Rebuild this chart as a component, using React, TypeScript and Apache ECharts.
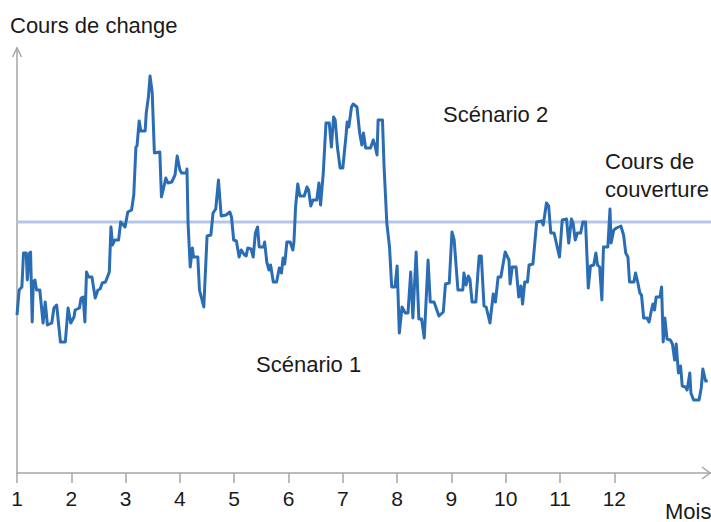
import React, { useEffect, useRef } from "react";
import * as echarts from "echarts";

// Time in months (1 = start of month 1) and exchange-rate level (arbitrary units)
const months: number[] = [
  1.0, 1.04, 1.09, 1.12, 1.17, 1.19, 1.23, 1.25, 1.28, 1.3, 1.33, 1.36, 1.42, 1.48, 1.52, 1.56, 1.64, 1.68, 1.73, 1.8,
  1.89, 1.94, 1.99, 2.05, 2.07, 2.15, 2.18, 2.22, 2.25, 2.28, 2.32, 2.38, 2.44, 2.49, 2.53, 2.57, 2.63, 2.7, 2.73, 2.76,
  2.8, 2.87, 2.91, 2.96, 2.99, 3.04, 3.11, 3.15, 3.19, 3.21, 3.25, 3.28, 3.36, 3.38, 3.42, 3.45, 3.49, 3.53, 3.63, 3.66,
  3.7, 3.74, 3.78, 3.85, 3.91, 3.95, 4.0, 4.03, 4.12, 4.13, 4.15, 4.19, 4.23, 4.25, 4.33, 4.36, 4.44, 4.5, 4.57, 4.61,
  4.66, 4.71, 4.76, 4.85, 4.92, 4.95, 4.99, 5.04, 5.09, 5.13, 5.19, 5.22, 5.25, 5.31, 5.35, 5.39, 5.43, 5.46, 5.54, 5.56,
  5.6, 5.64, 5.67, 5.72, 5.78, 5.83, 5.87, 5.9, 5.93, 5.97, 6.03, 6.08, 6.1, 6.13, 6.17, 6.21, 6.29, 6.34, 6.37, 6.41,
  6.45, 6.52, 6.56, 6.59, 6.64, 6.69, 6.75, 6.79, 6.83, 6.86, 6.9, 6.95, 7.0, 7.06, 7.08, 7.11, 7.16, 7.19, 7.26, 7.31,
  7.35, 7.38, 7.42, 7.51, 7.56, 7.59, 7.63, 7.65, 7.73, 7.76, 7.81, 7.86, 7.9, 7.96, 8.0, 8.04, 8.09, 8.15, 8.2, 8.25,
  8.29, 8.35, 8.4, 8.45, 8.5, 8.57, 8.61, 8.68, 8.77, 8.85, 8.89, 8.96, 9.01, 9.05, 9.12, 9.21, 9.23, 9.27, 9.31, 9.34,
  9.38, 9.45, 9.51, 9.55, 9.6, 9.64, 9.71, 9.77, 9.81, 9.86, 9.91, 9.99, 10.06, 10.08, 10.12, 10.19, 10.24, 10.28, 10.31, 10.35,
  10.4, 10.43, 10.5, 10.57, 10.66, 10.69, 10.75, 10.79, 10.83, 10.89, 10.99, 11.04, 11.12, 11.16, 11.21, 11.24, 11.28, 11.32, 11.38, 11.42,
  11.47, 11.52, 11.56, 11.62, 11.66, 11.69, 11.73, 11.77, 11.8, 11.88, 11.92, 11.94, 11.99, 12.04, 12.12, 12.17, 12.21, 12.25, 12.28, 12.36,
  12.39, 12.43, 12.47, 12.5, 12.54, 12.6, 12.64, 12.68, 12.71, 12.74, 12.77, 12.84, 12.87, 12.9, 12.93, 12.97, 13.03, 13.07, 13.11, 13.14,
  13.18, 13.22, 13.25, 13.31, 13.34, 13.39, 13.41, 13.46, 13.56, 13.6, 13.63, 13.68, 13.72,
];

const rates: number[] = [
  158, 183, 186, 220, 220, 193, 220, 221, 151, 191, 193, 183, 183, 150, 171, 148, 150, 165, 168, 131,
  131, 165, 150, 156, 163, 165, 175, 176, 151, 201, 196, 196, 175, 183, 184, 190, 191, 201, 246, 228,
  233, 233, 251, 248, 246, 261, 263, 278, 326, 327, 352, 342, 342, 360, 376, 397, 380, 320, 321, 276,
  285, 295, 290, 291, 298, 317, 303, 300, 300, 304, 250, 206, 225, 216, 216, 183, 166, 237, 238, 260,
  264, 293, 257, 258, 261, 256, 233, 232, 216, 223, 218, 217, 225, 224, 216, 240, 246, 226, 226, 231,
  211, 203, 208, 191, 191, 205, 200, 215, 209, 231, 231, 223, 231, 266, 289, 277, 277, 286, 283, 267,
  273, 273, 290, 268, 300, 350, 350, 326, 356, 353, 326, 305, 305, 338, 351, 346, 366, 369, 366, 340,
  328, 340, 325, 325, 333, 328, 318, 353, 353, 306, 250, 226, 186, 186, 207, 140, 166, 160, 160, 201,
  155, 221, 154, 154, 135, 213, 171, 171, 157, 161, 189, 190, 241, 233, 183, 183, 200, 188, 197, 194,
  171, 171, 217, 217, 167, 166, 150, 179, 171, 196, 196, 221, 213, 189, 206, 206, 176, 187, 169, 191,
  191, 208, 209, 251, 252, 248, 270, 267, 240, 240, 216, 253, 254, 230, 254, 250, 233, 240, 240, 251,
  251, 185, 207, 208, 220, 208, 206, 173, 226, 226, 264, 230, 243, 245, 247, 238, 220, 216, 191, 191,
  200, 191, 180, 178, 155, 155, 151, 162, 169, 163, 176, 176, 186, 131, 155, 134, 133, 129, 113, 129,
  100, 107, 87, 86, 83, 100, 80, 73, 73, 85, 104, 92, 92,
];

const hedgeRate = 251;
const monthTicks: number[] = [1, 2, 3, 4, 5, 6, 7, 8, 9, 10, 11, 12];
const xMin = 1;
const xMax = 13.78;
const yMin = 0;
const yMax = 425;

const FONT = "'Liberation Sans', 'Noto Sans', sans-serif";
const TEXT_COLOR = "#1a1a1a";
const AXIS_COLOR = "#a6a6a6";
const LINE_COLOR = "#2a6db5";
const HEDGE_COLOR = "#b4c7e7";

export default function App() {
  const ref = useRef<HTMLDivElement>(null);

  useEffect(() => {
    if (!ref.current) return;
    const chart = echarts.init(ref.current, null, { renderer: "svg" });
    const data = months.map((m, i) => [m, rates[i]]);
    chart.setOption({
      animation: false,
      backgroundColor: "#ffffff",
      grid: { left: 17, right: 0, top: 48, bottom: 49, containLabel: false },
      xAxis: {
        type: "value",
        min: xMin,
        max: xMax,
        interval: 1,
        axisLine: { show: true, lineStyle: { color: AXIS_COLOR, width: 1.5 } },
        axisTick: {
          show: true,
          length: 10,
          customValues: monthTicks,
          lineStyle: { color: AXIS_COLOR, width: 1.5 },
        },
        axisLabel: {
          show: true,
          customValues: monthTicks,
          margin: 15,
          color: TEXT_COLOR,
          fontFamily: FONT,
          fontSize: 21,
          showMinLabel: true,
          showMaxLabel: true,
          hideOverlap: false,
          formatter: (v: number) => String(v),
        },
        splitLine: { show: false },
      },
      yAxis: {
        type: "value",
        min: yMin,
        max: yMax,
        axisLine: { show: true, lineStyle: { color: AXIS_COLOR, width: 1.5 } },
        axisTick: { show: false },
        axisLabel: { show: false },
        splitLine: { show: false },
      },
      series: [
        {
          name: "Cours de couverture",
          type: "line",
          data: [
            [xMin, hedgeRate],
            [xMax, hedgeRate],
          ],
          symbol: "none",
          lineStyle: { color: HEDGE_COLOR, width: 3 },
          z: 1,
          silent: true,
        },
        {
          name: "Cours de change",
          type: "line",
          data,
          symbol: "none",
          lineStyle: { color: LINE_COLOR, width: 3, join: "round" },
          z: 2,
          silent: true,
        },
      ],
      graphic: [
        {
          type: "text",
          left: 10,
          top: 14,
          style: { text: "Cours de change", fill: TEXT_COLOR, font: `22px ${FONT}` },
        },
        {
          type: "text",
          left: 443,
          top: 103,
          style: { text: "Scénario 2", fill: TEXT_COLOR, font: `22px ${FONT}` },
        },
        {
          type: "text",
          left: 256,
          top: 353,
          style: { text: "Scénario 1", fill: TEXT_COLOR, font: `22px ${FONT}` },
        },
        {
          type: "text",
          left: 605,
          top: 150,
          style: { text: "Cours de", fill: TEXT_COLOR, font: `22px ${FONT}` },
        },
        {
          type: "text",
          left: 605,
          top: 178,
          style: { text: "couverture", fill: TEXT_COLOR, font: `22px ${FONT}` },
        },
        {
          type: "text",
          left: 665,
          top: 500,
          style: { text: "Mois", fill: TEXT_COLOR, font: `22px ${FONT}` },
        },
        {
          type: "polyline",
          shape: { points: [[12.5, 57], [17, 48], [21.5, 57]] },
          style: { stroke: AXIS_COLOR, lineWidth: 1.5, fill: "none" },
        },
        {
          type: "polyline",
          shape: { points: [[702, 467], [710, 473], [702, 479]] },
          style: { stroke: AXIS_COLOR, lineWidth: 1.5, fill: "none" },
        },
      ],
    });
    return () => chart.dispose();
  }, []);

  return (
    <div
      ref={ref}
      style={{ position: "absolute", left: 0, top: 0, width: 711, height: 522 }}
    />
  );
}
